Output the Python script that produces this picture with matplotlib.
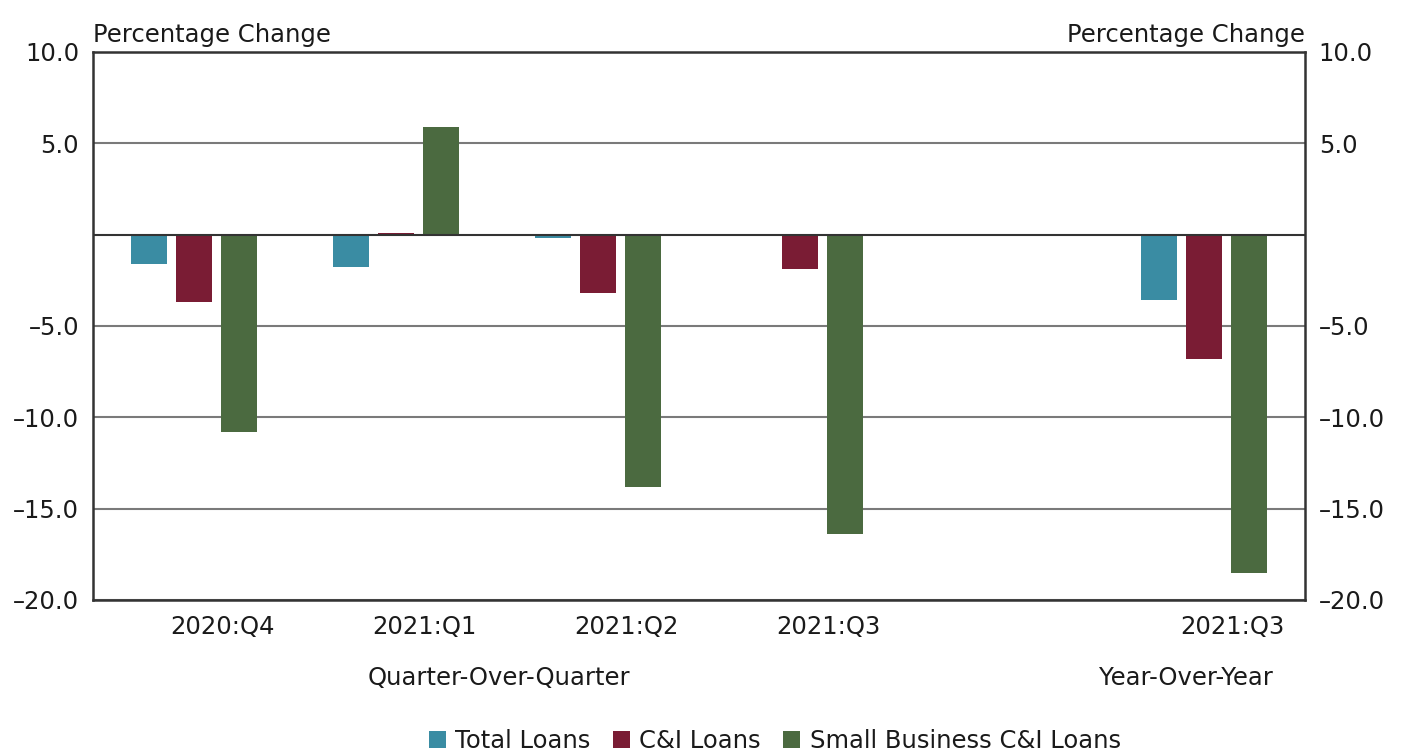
import matplotlib.pyplot as plt
import numpy as np

plt.rcParams["font.family"] = ["DejaVu Sans Condensed", "Liberation Sans Narrow", "DejaVu Sans"]

# data
periods = ["2020:Q4", "2021:Q1", "2021:Q2", "2021:Q3", "2021:Q3"]
slots = [0, 1, 2, 3, 5]
total_loans = [-1.6, -1.8, -0.2, -0.1, -3.6]
ci_loans = [-3.7, 0.1, -3.2, -1.9, -6.8]
small_biz_ci = [-10.8, 5.9, -13.8, -16.4, -18.5]
series_names = ["Total Loans", "C&I Loans", "Small Business C&I Loans"]
colors = ["#3a8ca3", "#7a1c34", "#4b6a40"]

fs = 17.5
txt = "#1a1a1a"

fig = plt.figure(figsize=(14.01, 7.53), dpi=100)
ax = fig.add_axes([0.0664, 0.2032, 0.865, 0.728])

x = np.array(slots, dtype=float)
width = 0.18
step = 0.222
for i, (vals, name, col) in enumerate(zip([total_loans, ci_loans, small_biz_ci], series_names, colors)):
    ax.bar(x + (i - 1) * step, vals, width=width, color=col, label=name, zorder=3)

ax.set_xlim(-0.5, 5.5)
ax.set_ylim(-20, 10)
yt = [-20, -15, -10, -5, 5, 10]
ax.set_yticks(yt)
ax.set_yticklabels([f"{v:.1f}".replace("-", "\u2013") for v in yt], fontsize=fs, color=txt)
ax.tick_params(axis="y", length=0, pad=10, labelright=True, right=False)
ax.grid(axis="y", color="#7a7a7a", linewidth=1.5, zorder=0)
ax.axhline(0, color="#333333", linewidth=1.5, zorder=4)

ax.set_xticks([])
for s, p in zip(slots, periods):
    ax.text(s + 0.14, -20.8, p, ha="center", va="top", fontsize=fs, color=txt)
ax.text(1.51, -23.6, "Quarter-Over-Quarter", ha="center", va="top", fontsize=fs, color=txt)
ax.text(4.91, -23.6, "Year-Over-Year", ha="center", va="top", fontsize=fs, color=txt)

for side in ["left", "right", "bottom", "top"]:
    ax.spines[side].set_color("#333333")
    ax.spines[side].set_linewidth(1.8)

ax.text(0.0, 1.008, "Percentage Change", transform=ax.transAxes, ha="left", va="bottom", fontsize=fs, color=txt)
ax.text(1.0, 1.008, "Percentage Change", transform=ax.transAxes, ha="right", va="bottom", fontsize=fs, color=txt)

leg = fig.legend(loc="lower center", bbox_to_anchor=(0.553, -0.029), ncol=3, frameon=False,
                 fontsize=fs, handlelength=0.7, handleheight=0.7, handletextpad=0.4, columnspacing=0.9)
for t in leg.get_texts():
    t.set_color(txt)

fig.savefig("out.png", dpi=100)
